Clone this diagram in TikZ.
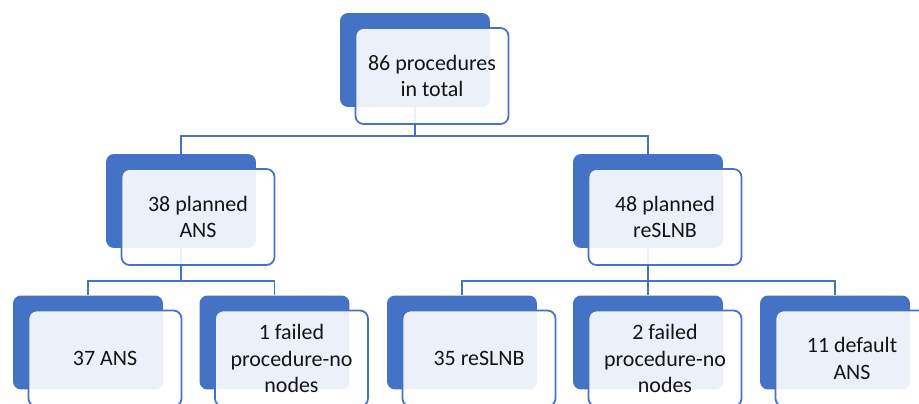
\documentclass[tikz,border=0pt]{standalone}
\usepackage{fontspec}
\setmainfont{Carlito}
\usetikzlibrary{backgrounds}

\definecolor{boxblue}{HTML}{4472C4}
\definecolor{boxtext}{HTML}{141414}

\tikzset{
  backbox/.style = {fill = boxblue, rounded corners = 0.16cm, minimum width = 3cm, minimum height = 1.88cm, inner sep = 0pt},
  frontbox/.style = {draw = boxblue, line width = 1pt, fill = white, fill opacity = 0.9, text opacity = 1, text = boxtext,
    rounded corners = 0.16cm, minimum width = 3.06cm, minimum height = 1.92cm, align = center, font = \fontsize{12.5}{15}\selectfont},
  link/.style = {draw = boxblue, line width = 1pt}
}

\newcommand{\orgbox}[4]{%
  \node[backbox] (#1) at (#2, #3) {};
  \node[frontbox] (#1f) at ({#2 + 17}, {#3 + 16}) {#4};
}

\begin{document}
\begin{tikzpicture}[x = 0.02cm, y = -0.02cm]
        \useasboundingbox (0, 0) rectangle (919, 404);
        \clip (0, 0) rectangle (919, 404);
        
        \orgbox{total}{415}{60}{86 procedures\\in total}
        \orgbox{ans}{181}{201}{38 planned\\ANS}
        \orgbox{slnb}{648}{201}{48 planned\\reSLNB}
        
        \orgbox{ansok}{88}{342.5}{37 ANS}
        \orgbox{ansfail}{274.5}{342.5}{1 failed\\procedure-no\\nodes}
        \orgbox{slnbok}{462}{342.5}{35 reSLNB}
        \orgbox{slnbfail}{648}{342.5}{2 failed\\procedure-no\\nodes}
        \orgbox{slnbdef}{835}{342.5}{11 default\\ANS}
        
        \begin{pgfonlayer}{background}
          \foreach \child in {ans, slnb}
            \draw[link] (total.south) -- ++(0, 29) -| (\child.north);
          \foreach \child in {ansok, ansfail}
            \draw[link] (ans.south) -- ++(0, 33) -| (\child.north);
          \foreach \child in {slnbok, slnbfail, slnbdef}
            \draw[link] (slnb.south) -- ++(0, 33) -| (\child.north);
        \end{pgfonlayer}
      \end{tikzpicture}
\end{document}
